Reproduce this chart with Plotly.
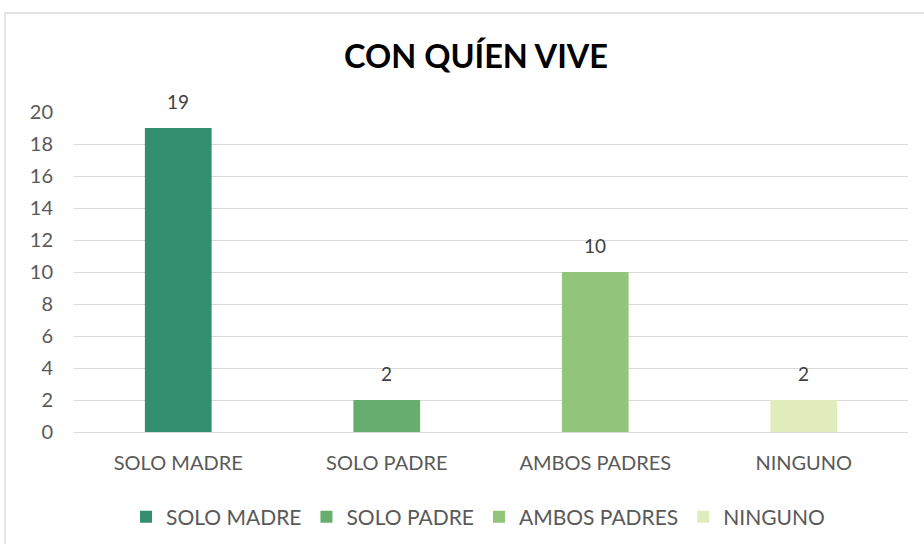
import plotly.graph_objects as go

categories = ["SOLO MADRE", "SOLO PADRE", "AMBOS PADRES", "NINGUNO"]
values = [19, 2, 10, 2]
colors = ["#338E6F", "#67AE6E", "#91C67A", "#E1ECBC"]
y_ticks = list(range(0, 21, 2))
title = "CON QUÍEN VIVE"

FONT = "Lato, Open Sans, sans-serif"
TXT = "#595959"

fig = go.Figure()
for c, v, col in zip(categories, values, colors):
    fig.add_trace(go.Bar(x=[c], y=[v], name=c, marker=dict(color=col, line=dict(width=0)),
                         width=0.32, showlegend=True))
    fig.add_annotation(x=c, y=v, text=str(v), showarrow=False, yanchor="bottom", yshift=13,
                       font=dict(family=FONT, size=19, color="#404040"))

W, H = 924, 544
L, R, T, B = 74, 16, 112, 112
pw, ph = W - L - R, H - T - B

fig.update_layout(
    width=W, height=H,
    margin=dict(l=L, r=R, t=T, b=B, autoexpand=False),
    paper_bgcolor="white", plot_bgcolor="white",
    barmode="overlay",
    title=dict(text="<b>" + title + "</b>", x=476 / W, xanchor="center", y=1 - 57 / H, yanchor="middle",
               font=dict(family=FONT, size=32.5, color="#000000")),
    xaxis=dict(categoryorder="array", categoryarray=categories, showgrid=False, showline=False,
               ticks="", tickfont=dict(family=FONT, size=20, color=TXT), ticklabelstandoff=17,
               fixedrange=True),
    yaxis=dict(range=[0, 20], tickvals=y_ticks, showgrid=True, gridcolor="#D9D9D9", gridwidth=1.3,
               zeroline=True, zerolinecolor="#D9D9D9", zerolinewidth=1.3, showline=False, ticks="",
               tickfont=dict(family=FONT, size=20, color=TXT), ticklabelstandoff=20, fixedrange=True),
    legend=dict(orientation="h", x=(478 - L) / pw, xanchor="center", y=-(517 - 432) / ph, yanchor="middle",
                font=dict(family=FONT, size=21, color=TXT), itemwidth=30, traceorder="normal"),
    showlegend=True,
)
fig.add_shape(type="rect", xref="paper", yref="paper",
              x0=(5 - L) / pw, x1=(W + 20 - L) / pw, y0=-(H + 20 - (T + ph)) / ph, y1=(T + ph - 13) / ph,
              line=dict(color="#D9D9D9", width=1.3), fillcolor="rgba(0,0,0,0)", layer="below")

fig.write_html("out.html", config={"displayModeBar": False},
               post_script="document.body.style.margin='0';document.body.style.overflow='hidden';")
